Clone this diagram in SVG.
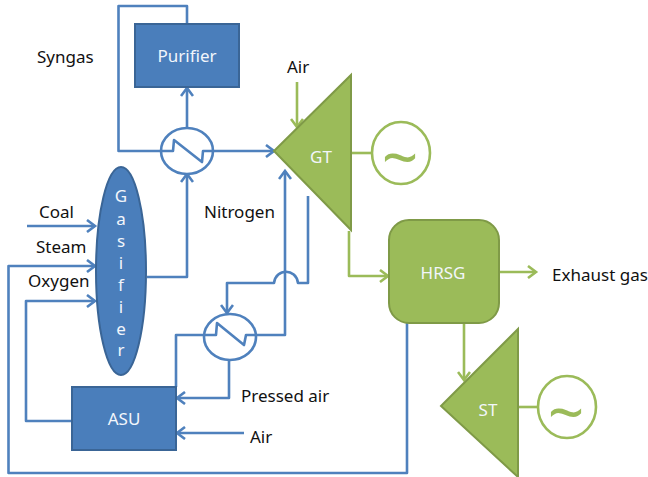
<svg xmlns="http://www.w3.org/2000/svg" width="648" height="477" viewBox="0 0 648 477">
<style>
text{font-family:"Noto Sans","Open Sans","Liberation Sans",sans-serif;font-size:17px;fill:#111}
.w{fill:#f2f6fb;text-anchor:middle}
.b{fill:none;stroke:#4f81bd;stroke-width:2.6;stroke-linejoin:round}
.g{fill:none;stroke:#9bbb59;stroke-width:2.6;stroke-linejoin:round}
.bn{fill:#4a7ebb;stroke:#3a6596;stroke-width:2}
.gn{fill:#9bbb59;stroke:#7f9a47;stroke-width:2}
.hx{fill:#fff;stroke:#4f81bd;stroke-width:2.6}
.gc{fill:#fff;stroke:#9bbb59;stroke-width:2.6}
.tl{font-size:64px;fill:#9bbb59;text-anchor:middle}
</style>
<defs>
<marker id="ab" markerUnits="userSpaceOnUse" markerWidth="14" markerHeight="14" refX="11" refY="7" orient="auto"><path d="M3 1L11 7L3 13" fill="none" stroke="#4f81bd" stroke-width="2.6"/></marker>
<marker id="ag" markerUnits="userSpaceOnUse" markerWidth="14" markerHeight="14" refX="11" refY="7" orient="auto"><path d="M3 1L11 7L3 13" fill="none" stroke="#9bbb59" stroke-width="2.6"/></marker>
</defs>
<g id="connectors">
<path class="b" d="M187 24V6H118.500V151H274" marker-end="url(#ab)"/>
<path class="b" d="M187 127V88" marker-end="url(#ab)"/>
<path class="b" d="M147 277H187V174" marker-end="url(#ab)"/>
<path class="b" d="M27 226H95" marker-end="url(#ab)"/>
<path class="b" d="M407 323V473H8.500V266H95" marker-end="url(#ab)"/>
<path class="b" d="M72 421H26V301H95" marker-end="url(#ab)"/>
<path class="b" d="M176 387V335H285V171" marker-end="url(#ab)"/>
<path class="b" d="M308 196V283H298C296 268 276 268 274 283H227V313" marker-end="url(#ab)"/>
<path class="b" d="M229 360V398H177" marker-end="url(#ab)"/>
<path class="b" d="M244 433H177" marker-end="url(#ab)"/>
<path class="g" d="M297 82V127" marker-end="url(#ag)"/>
<path class="g" d="M349 231V276H388" marker-end="url(#ag)"/>
<path class="g" d="M499 272H536" marker-end="url(#ag)"/>
<path class="g" d="M464 324V380" marker-end="url(#ag)"/>
<path class="g" d="M351 153H372"/>
<path class="g" d="M518 407H538"/>
</g>
<g id="purifier"><rect class="bn" x="135" y="24" width="104" height="63"/><text class="w" x="187" y="62">Purifier</text></g>
<g id="hx1"><ellipse class="hx" cx="187" cy="151" rx="26" ry="23"/><path class="b" d="M161 151H173L174 140L202 162L203 151H213"/></g>
<g id="hx2"><ellipse class="hx" cx="230" cy="337" rx="26" ry="23"/><path class="b" d="M204 335H216L217 323L244 345L246 335H256"/></g>
<g id="gasifier"><ellipse class="bn" cx="121" cy="271" rx="25" ry="104"/>
<text class="w" x="121" y="202">G</text><text class="w" x="121" y="225">a</text><text class="w" x="121" y="247">s</text><text class="w" x="121" y="269">i</text><text class="w" x="121" y="291">f</text><text class="w" x="121" y="313">i</text><text class="w" x="121" y="335">e</text><text class="w" x="121" y="356">r</text></g>
<g id="asu"><rect class="bn" x="72" y="387" width="104" height="63"/><text class="w" x="124" y="425">ASU</text></g>
<g id="gt"><path class="gn" d="M274 151L351 75V230Z"/><text class="w" x="321" y="163">GT</text></g>
<g id="gen1"><ellipse class="gc" cx="401" cy="153" rx="29" ry="31"/><text class="tl" x="400" y="180">~</text></g>
<g id="hrsg"><rect class="gn" x="389" y="220" width="110" height="103" rx="20"/><text class="w" x="443" y="279">HRSG</text></g>
<g id="st"><path class="gn" d="M441 406L518 329V477Z"/><text class="w" x="488" y="416">ST</text></g>
<g id="gen2"><ellipse class="gc" cx="567" cy="407" rx="29" ry="31"/><text class="tl" x="566" y="435">~</text></g>
<g id="labels">
<text x="37" y="63">Syngas</text>
<text x="287" y="73">Air</text>
<text x="39" y="218">Coal</text>
<text x="36" y="253">Steam</text>
<text x="28" y="287">Oxygen</text>
<text x="204" y="218">Nitrogen</text>
<text x="241" y="402">Pressed air</text>
<text x="250" y="443">Air</text>
<text x="552" y="281">Exhaust gas</text>
</g>
</svg>
